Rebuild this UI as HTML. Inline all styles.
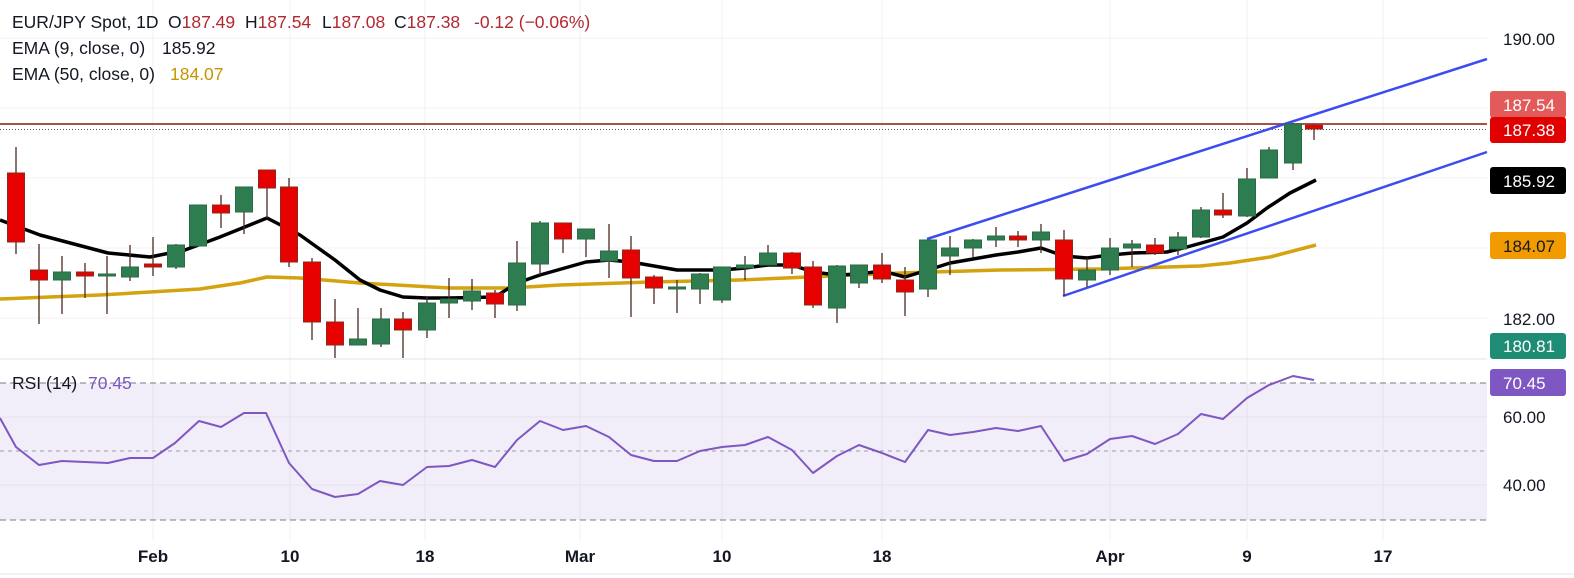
<!DOCTYPE html>
<html><head><meta charset="utf-8"><style>
html,body{margin:0;padding:0;background:#fff;}
svg{display:block;font-family:"Liberation Sans",sans-serif;}
.w{stroke:#4a2a22;stroke-width:1.3}
.g{fill:#2e7d50;stroke:#2a6a45;stroke-width:1}
.r{fill:#e60000;stroke:#8b2a1a;stroke-width:1}
</style></head><body>
<svg width="1574" height="578" viewBox="0 0 1574 578" xmlns="http://www.w3.org/2000/svg">
<rect width="1574" height="578" fill="#fff"/>
<g stroke="#f0f1f4" stroke-width="1">
<line x1="0" y1="38" x2="1487" y2="38"/><line x1="0" y1="108" x2="1487" y2="108"/>
<line x1="0" y1="178" x2="1487" y2="178"/><line x1="0" y1="248" x2="1487" y2="248"/>
<line x1="0" y1="318" x2="1487" y2="318"/>
<line x1="0" y1="417" x2="1487" y2="417"/><line x1="0" y1="485" x2="1487" y2="485"/>
<line x1="153" y1="0" x2="153" y2="540"/><line x1="290" y1="0" x2="290" y2="540"/>
<line x1="425" y1="0" x2="425" y2="540"/><line x1="580" y1="0" x2="580" y2="540"/>
<line x1="722" y1="0" x2="722" y2="540"/><line x1="882" y1="0" x2="882" y2="540"/>
<line x1="1110" y1="0" x2="1110" y2="540"/><line x1="1247" y1="0" x2="1247" y2="540"/>
<line x1="1383" y1="0" x2="1383" y2="540"/>
</g>
<line x1="0" y1="359" x2="1487" y2="359" stroke="#e0e3eb" stroke-width="1"/>
<rect x="0" y="383" width="1487" height="137" fill="#7e57c2" fill-opacity="0.1"/>
<g stroke="#787b86" stroke-width="1" stroke-dasharray="6,4">
<line x1="0" y1="383" x2="1487" y2="383"/><line x1="0" y1="520" x2="1487" y2="520"/>
<line x1="0" y1="451" x2="1487" y2="451" stroke-dasharray="4,4" stroke-opacity="0.7"/>
</g>
<line x1="0" y1="124" x2="1487" y2="124" stroke="#a5524a" stroke-width="2"/>
<line x1="0" y1="129.5" x2="1487" y2="129.5" stroke="#555" stroke-width="1" stroke-dasharray="1,2"/>
<polyline fill="none" stroke="#d4a30f" stroke-width="3.5" stroke-linejoin="round" points="0,299 100,295 200,289 240,283 267,277 300,278 360,283 450,288 510,288 560,285 650,282 740,280 900,273 1000,270 1100,269 1200,266 1230,263 1270,257 1316,245"/>
<polyline fill="none" stroke="#000" stroke-width="3.5" stroke-linejoin="round" points="0,220 40,235 108,253 150,257 185,250 220,237 267,218 300,235 335,260 360,280 380,290 403,297 427,298 450,298 495,297 517,283 540,275 586,262 609,260 631,262 654,266 677,270 700,270 722,270 745,268 768,265 792,265 813,272 837,275 859,274 882,271 905,277 928,270 950,263 973,259 996,255 1018,252 1041,248 1064,256 1087,258 1110,255 1133,253 1167,252 1187,247 1223,237 1247,223 1267,208 1290,193 1316,180"/>
<line x1="927" y1="239" x2="1487" y2="59" stroke="#3d4cf0" stroke-width="2.5"/>
<line x1="1063" y1="296" x2="1487" y2="152" stroke="#3d4cf0" stroke-width="2.5"/>
<g>
<line class="w" x1="16" y1="147" x2="16" y2="254"/><rect class="r" x="7.5" y="173" width="17" height="69"/>
<line class="w" x1="39" y1="244" x2="39" y2="324"/><rect class="r" x="30.5" y="270" width="17" height="10"/>
<line class="w" x1="62" y1="256" x2="62" y2="314"/><rect class="g" x="53.5" y="272" width="17" height="8"/>
<line class="w" x1="85" y1="263" x2="85" y2="298"/><rect class="r" x="76.5" y="272" width="17" height="4"/>
<line class="w" x1="107" y1="256" x2="107" y2="314"/><rect class="g" x="98.5" y="274" width="17" height="2"/>
<line class="w" x1="130" y1="245" x2="130" y2="281"/><rect class="g" x="121.5" y="267" width="17" height="10"/>
<line class="w" x1="153" y1="237" x2="153" y2="276"/><rect class="r" x="144.5" y="264" width="17" height="3"/>
<line class="w" x1="176" y1="244" x2="176" y2="269"/><rect class="g" x="167.5" y="245" width="17" height="22"/>
<line class="w" x1="198" y1="205" x2="198" y2="246"/><rect class="g" x="189.5" y="205" width="17" height="41"/>
<line class="w" x1="221" y1="195" x2="221" y2="228"/><rect class="r" x="212.5" y="205" width="17" height="8"/>
<line class="w" x1="244" y1="187" x2="244" y2="234"/><rect class="g" x="235.5" y="187" width="17" height="25"/>
<line class="w" x1="267" y1="170" x2="267" y2="218"/><rect class="r" x="258.5" y="170" width="17" height="18"/>
<line class="w" x1="289" y1="178" x2="289" y2="267"/><rect class="r" x="280.5" y="187" width="17" height="75"/>
<line class="w" x1="312" y1="258" x2="312" y2="340"/><rect class="r" x="303.5" y="262" width="17" height="60"/>
<line class="w" x1="335" y1="299" x2="335" y2="358"/><rect class="r" x="326.5" y="322" width="17" height="23"/>
<line class="w" x1="358" y1="308" x2="358" y2="345"/><rect class="g" x="349.5" y="339" width="17" height="6"/>
<line class="w" x1="381" y1="308" x2="381" y2="347"/><rect class="g" x="372.5" y="319" width="17" height="25"/>
<line class="w" x1="403" y1="312" x2="403" y2="358"/><rect class="r" x="394.5" y="319" width="17" height="11"/>
<line class="w" x1="427" y1="297" x2="427" y2="338"/><rect class="g" x="418.5" y="303" width="17" height="27"/>
<line class="w" x1="449" y1="278" x2="449" y2="318"/><rect class="g" x="440.5" y="299" width="17" height="4"/>
<line class="w" x1="472" y1="279" x2="472" y2="310"/><rect class="g" x="463.5" y="291" width="17" height="10"/>
<line class="w" x1="495" y1="290" x2="495" y2="318"/><rect class="r" x="486.5" y="293" width="17" height="11"/>
<line class="w" x1="517" y1="241" x2="517" y2="311"/><rect class="g" x="508.5" y="263" width="17" height="42"/>
<line class="w" x1="540" y1="221" x2="540" y2="275"/><rect class="g" x="531.5" y="223" width="17" height="41"/>
<line class="w" x1="563" y1="223" x2="563" y2="253"/><rect class="r" x="554.5" y="223" width="17" height="16"/>
<line class="w" x1="586" y1="229" x2="586" y2="257"/><rect class="g" x="577.5" y="229" width="17" height="10"/>
<line class="w" x1="609" y1="224" x2="609" y2="278"/><rect class="g" x="600.5" y="251" width="17" height="10"/>
<line class="w" x1="631" y1="236" x2="631" y2="317"/><rect class="r" x="622.5" y="250" width="17" height="28"/>
<line class="w" x1="654" y1="275" x2="654" y2="304"/><rect class="r" x="645.5" y="277" width="17" height="11"/>
<line class="w" x1="677" y1="280" x2="677" y2="313"/><rect class="g" x="668.5" y="287" width="17" height="2"/>
<line class="w" x1="700" y1="273" x2="700" y2="304"/><rect class="g" x="691.5" y="274" width="17" height="15"/>
<line class="w" x1="722" y1="267" x2="722" y2="303"/><rect class="g" x="713.5" y="267" width="17" height="33"/>
<line class="w" x1="745" y1="256" x2="745" y2="280"/><rect class="g" x="736.5" y="265" width="17" height="3"/>
<line class="w" x1="768" y1="245" x2="768" y2="265"/><rect class="g" x="759.5" y="253" width="17" height="12"/>
<line class="w" x1="792" y1="252" x2="792" y2="274"/><rect class="r" x="783.5" y="253" width="17" height="15"/>
<line class="w" x1="813" y1="261" x2="813" y2="308"/><rect class="r" x="804.5" y="267" width="17" height="38"/>
<line class="w" x1="837" y1="265" x2="837" y2="323"/><rect class="g" x="828.5" y="266" width="17" height="42"/>
<line class="w" x1="859" y1="265" x2="859" y2="288"/><rect class="g" x="850.5" y="265" width="17" height="18"/>
<line class="w" x1="882" y1="253" x2="882" y2="283"/><rect class="r" x="873.5" y="265" width="17" height="14"/>
<line class="w" x1="905" y1="267" x2="905" y2="316"/><rect class="r" x="896.5" y="280" width="17" height="12"/>
<line class="w" x1="928" y1="240" x2="928" y2="297"/><rect class="g" x="919.5" y="240" width="17" height="49"/>
<line class="w" x1="950" y1="236" x2="950" y2="275"/><rect class="g" x="941.5" y="248" width="17" height="8"/>
<line class="w" x1="973" y1="239" x2="973" y2="257"/><rect class="g" x="964.5" y="240" width="17" height="8"/>
<line class="w" x1="996" y1="227" x2="996" y2="247"/><rect class="g" x="987.5" y="236" width="17" height="4"/>
<line class="w" x1="1018" y1="231" x2="1018" y2="247"/><rect class="r" x="1009.5" y="236" width="17" height="4"/>
<line class="w" x1="1041" y1="224" x2="1041" y2="253"/><rect class="g" x="1032.5" y="232" width="17" height="8"/>
<line class="w" x1="1064" y1="230" x2="1064" y2="296"/><rect class="r" x="1055.5" y="240" width="17" height="39"/>
<line class="w" x1="1087" y1="258" x2="1087" y2="287"/><rect class="g" x="1078.5" y="270" width="17" height="10"/>
<line class="w" x1="1110" y1="238" x2="1110" y2="275"/><rect class="g" x="1101.5" y="248" width="17" height="22"/>
<line class="w" x1="1132" y1="240" x2="1132" y2="267"/><rect class="g" x="1123.5" y="244" width="17" height="4"/>
<line class="w" x1="1155" y1="238" x2="1155" y2="255"/><rect class="r" x="1146.5" y="245" width="17" height="8"/>
<line class="w" x1="1178" y1="232" x2="1178" y2="255"/><rect class="g" x="1169.5" y="237" width="17" height="12"/>
<line class="w" x1="1201" y1="207" x2="1201" y2="238"/><rect class="g" x="1192.5" y="210" width="17" height="27"/>
<line class="w" x1="1223" y1="193" x2="1223" y2="218"/><rect class="r" x="1214.5" y="210" width="17" height="5"/>
<line class="w" x1="1247" y1="168" x2="1247" y2="217"/><rect class="g" x="1238.5" y="179" width="17" height="37"/>
<line class="w" x1="1269" y1="147" x2="1269" y2="178"/><rect class="g" x="1260.5" y="150" width="17" height="28"/>
<line class="w" x1="1293" y1="123" x2="1293" y2="170"/><rect class="g" x="1284.5" y="124" width="17" height="39"/>
<line class="w" x1="1314" y1="124" x2="1314" y2="140"/><rect class="r" x="1305.5" y="125" width="17" height="4"/>
</g>
<polyline fill="none" stroke="#7e57c2" stroke-width="2" stroke-linejoin="round" points="0,418 16,447 39,465 62,461 85,462 108,463 130,458 153,458 175,443 199,421 221,427 244,413 266,413 289,463 312,489 335,497 358,494 380,481 403,485 427,467 449,466 472,460 495,467 517,440 540,421 563,430 586,426 609,437 631,455 654,461 677,461 700,451 722,447 745,445 768,437 792,450 813,473 837,456 859,445 882,453 905,462 928,430 950,435 973,432 996,428 1018,431 1041,426 1064,461 1087,454 1110,439 1132,436 1155,444 1178,434 1201,414 1223,419 1247,398 1269,385 1293,376 1314,380"/>
<g font-size="17.5" fill="#131722">
<text x="12" y="28">EUR/JPY Spot, 1D  <tspan x="168">O</tspan><tspan fill="#b22833">187.49</tspan>  <tspan x="245">H</tspan><tspan fill="#b22833">187.54</tspan>  <tspan x="322">L</tspan><tspan fill="#b22833">187.08</tspan>  <tspan x="394">C</tspan><tspan fill="#b22833">187.38</tspan>  <tspan x="474" fill="#b22833">-0.12 (−0.06%)</tspan></text>
<text x="12" y="54">EMA (9, close, 0)  <tspan x="162">185.92</tspan></text>
<text x="12" y="80">EMA (50, close, 0)  <tspan x="170" fill="#c79400">184.07</tspan></text>
<text x="12" y="389">RSI (14)  <tspan x="88" fill="#7e57c2">70.45</tspan></text>
</g>
<g font-size="17" fill="#131722">
<text x="1503" y="45">190.00</text><text x="1503" y="325">182.00</text>
<text x="1503" y="423">60.00</text><text x="1503" y="491">40.00</text>
</g>
<g font-size="17" fill="#fff">
<rect x="1490" y="91" width="76" height="27" rx="3" fill="#e35a5a"/><text x="1503" y="111">187.54</text>
<rect x="1490" y="117" width="76" height="26" rx="3" fill="#e00000"/><text x="1503" y="136">187.38</text>
<rect x="1490" y="167" width="76" height="27" rx="3" fill="#000"/><text x="1503" y="187">185.92</text>
<rect x="1490" y="232" width="76" height="27" rx="3" fill="#f29b00"/><text x="1503" y="252" fill="#131722">184.07</text>
<rect x="1490" y="333" width="76" height="26" rx="3" fill="#1f8c76"/><text x="1503" y="352">180.81</text>
<rect x="1490" y="369" width="76" height="27" rx="3" fill="#7e57c2"/><text x="1503" y="389">70.45</text>
</g>
<g font-size="17" fill="#131722" text-anchor="middle" font-weight="bold">
<text x="153" y="562">Feb</text><text x="290" y="562">10</text><text x="425" y="562">18</text>
<text x="580" y="562">Mar</text><text x="722" y="562">10</text><text x="882" y="562">18</text>
<text x="1110" y="562">Apr</text><text x="1247" y="562">9</text><text x="1383" y="562">17</text>
</g>
<line x1="0" y1="574" x2="1574" y2="574" stroke="#e0e3eb"/>
</svg>
</body></html>
